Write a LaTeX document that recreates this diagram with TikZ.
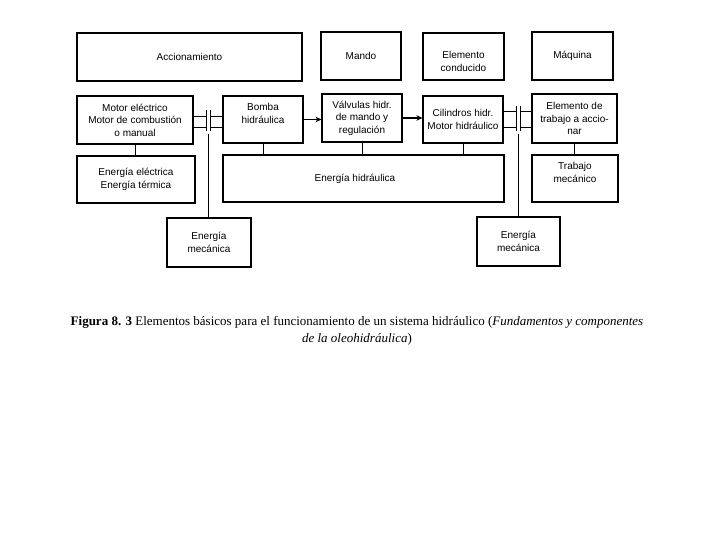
\documentclass[tikz,border=0pt]{standalone}
\usepackage{fontspec}
\setmainfont{Liberation Serif}
\newfontfamily\boxfont{Liberation Sans}
\usetikzlibrary{arrows.meta,calc}
\tikzset{
  box/.style={draw, line width=1.1pt, align=center, inner sep=1pt,
    font=\boxfont\fontsize{10}{12.5}\selectfont},
  txt/.style={align=center, inner sep=1pt, font=\boxfont\fontsize{10}{12.5}\selectfont},
  conn/.style={line width=0.9pt},
  arr/.style={line width=1.4pt, -{Stealth[length=6pt,width=5.5pt]}},
  bar/.style={line width=1pt}
}
\begin{document}
\begin{tikzpicture}[x=1pt,y=-1pt]
\useasboundingbox[fill=white] (0,0) rectangle (720,540);
% top row
\node[box, minimum width=225pt, minimum height=48pt] (acc) at (189.5,57) {Accionamiento};
\node[box, minimum width=80pt, minimum height=48pt] (mando) at (361,56) {Mando};
\node[box, minimum width=81pt, minimum height=47pt] (cond) at (463.5,56.5) {};
\node[txt] (condT) at ($(cond)+(0,5)$) {Elemento\\conducido};
\node[box, minimum width=81pt, minimum height=48pt] (maq) at (572.5,56) {Máquina};
% second row
\node[box, minimum width=116pt, minimum height=48pt] (motor) at (135,120) {Motor eléctrico\\Motor de combustión\\o manual};
\node[box, line width=1.5pt, minimum width=80pt, minimum height=47pt] (bomba) at (263,119.5) {};
\node[txt] (bombaT) at ($(bomba)+(0,-6)$) {Bomba\\hidráulica};
\node[box, minimum width=80pt, minimum height=48pt] (valv) at (362,118) {Válvulas hidr.\\de mando y\\regulación};
\node[box, minimum width=80pt, minimum height=47pt] (cil) at (463,119.5) {Cilindros hidr.\\Motor hidráulico};
\node[box, minimum width=85pt, minimum height=49pt] (elem) at (574.5,118.5) {Elemento de\\trabajo a accio-\\nar};
% third row
\node[box, minimum width=118pt, minimum height=47pt] (eelec) at (136,179.5) {Energía eléctrica\\Energía térmica};
\node[box, minimum width=281pt, minimum height=47pt] (ehid) at (363.5,178.5) {};
\node[txt] (ehidT) at (355,179) {Energía hidráulica};
\node[box, minimum width=86pt, minimum height=47pt] (trab) at (575,178.5) {};
\node[txt] (trabT) at ($(trab)+(0,-6)$) {Trabajo\\mecánico};
% fourth row
\node[box, minimum width=84pt, minimum height=49pt] (emec1) at (209,242.5) {Energía\\mecánica};
\node[box, minimum width=83pt, minimum height=49pt] (emec2) at (518.5,241.5) {Energía\\mecánica};
% vertical connectors
\draw[conn] (motor.south) -- (motor.south |- eelec.north);
\draw[conn] (bomba.south) -- (bomba.south |- ehid.north);
\draw[conn] (valv.south) -- (valv.south |- ehid.north);
\draw[conn] (cil.south) -- (cil.south |- ehid.north);
\draw[conn] (elem.south) -- (elem.south |- trab.north);
% arrows
\draw[arr] (bomba.east) -- (bomba.east -| valv.west);
\draw[arr] (valv.east) -- (valv.east -| cil.west);
% left coupling
\coordinate (la1) at (206,110); \coordinate (la2) at (206,131);
\coordinate (lb1) at (210,110); \coordinate (lb2) at (210,131);
\coordinate (lc) at (208,134);
\draw[bar] (la1) -- (la2);
\draw[bar] (lb1) -- (lb2);
\draw[conn] (motor.east |- 0,116) -- (la1 |- 0,116);
\draw[conn] (motor.east |- 0,127) -- (la1 |- 0,127);
\draw[conn] (lb1 |- 0,116) -- (bomba.west |- 0,116);
\draw[conn] (lb1 |- 0,127) -- (bomba.west |- 0,127);
\draw[conn] (lc) -- (lc |- emec1.north);
% right coupling
\coordinate (ra1) at (516.5,106); \coordinate (ra2) at (516.5,131);
\coordinate (rb1) at (520.5,106); \coordinate (rb2) at (520.5,131);
\coordinate (rc) at (518.5,134);
\draw[bar] (ra1) -- (ra2);
\draw[bar] (rb1) -- (rb2);
\draw[conn] (cil.east |- 0,111) -- (ra1 |- 0,111);
\draw[conn] (cil.east |- 0,127) -- (ra1 |- 0,127);
\draw[conn] (rb1 |- 0,111) -- (elem.west |- 0,111);
\draw[conn] (rb1 |- 0,127) -- (elem.west |- 0,127);
\draw[conn] (rc) -- (rc |- emec2.north);
% caption
\node[align=center, font=\fontsize{13}{17}\selectfont] (cap) at (357,331)
  {\textbf{Figura 8. 3} Elementos básicos para el funcionamiento de un sistema hidráulico (\textit{Fundamentos y componentes}\\\textit{de la oleohidráulica})};
\end{tikzpicture}
\end{document}
